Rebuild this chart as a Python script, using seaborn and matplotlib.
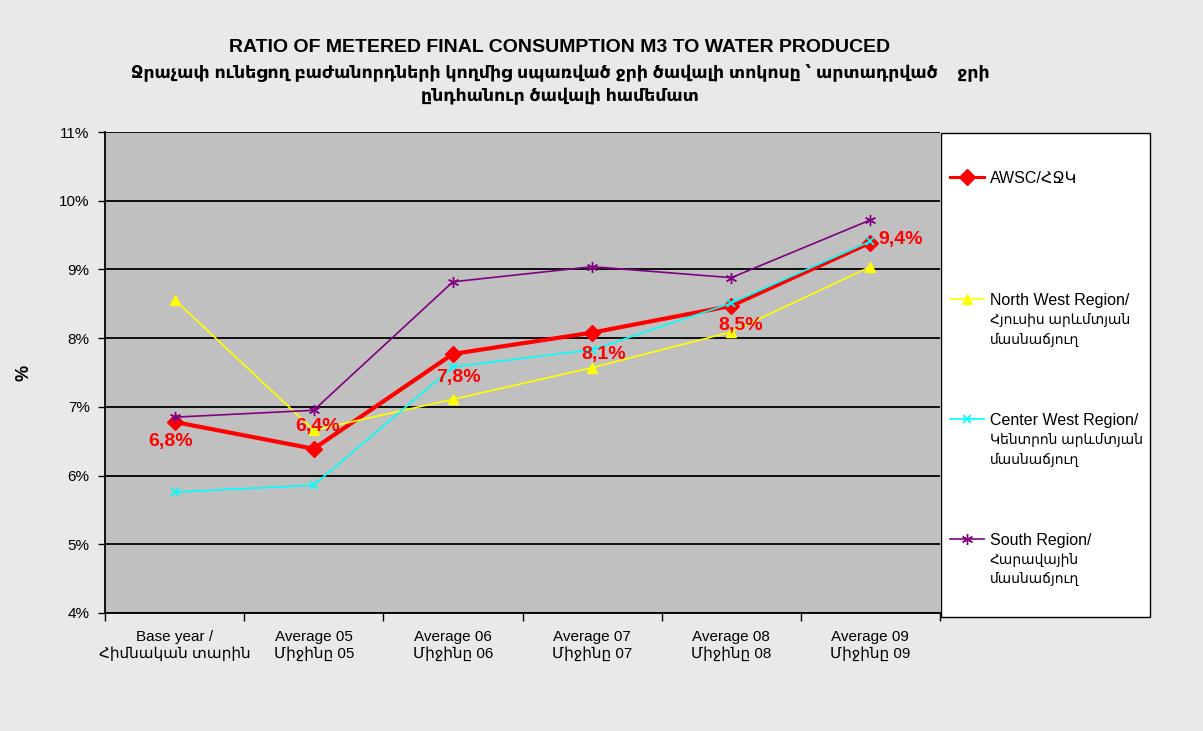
import matplotlib
matplotlib.use('Agg')
import matplotlib.pyplot as plt
from matplotlib.lines import Line2D
from matplotlib.patches import Rectangle
from matplotlib.ticker import FixedLocator, FuncFormatter
import seaborn as sns
import pandas as pd

# data (percent)
categories = ['Base year /\nՀիմնական տարին', 'Average 05\nՄիջինը 05', 'Average 06\nՄիջինը 06',
              'Average 07\nՄիջինը 07', 'Average 08\nՄիջինը 08', 'Average 09\nՄիջինը 09']
awsc = [6.78, 6.39, 7.77, 8.08, 8.47, 9.39]
north_west = [8.56, 6.66, 7.11, 7.57, 8.09, 9.04]
center_west = [5.76, 5.86, 7.58, 7.83, 8.51, 9.41]
south = [6.85, 6.95, 8.82, 9.04, 8.88, 9.72]
awsc_labels = ['6,8%', '6,4%', '7,8%', '8,1%', '8,5%', '9,4%']

legend_names = [['AWSC/ՀՋԿ'],
                ['North West Region/', 'Հյուսիս արևմտյան', 'մասնաճյուղ'],
                ['Center West Region/', 'Կենտրոն արևմտյան', 'մասնաճյուղ'],
                ['South Region/', 'Հարավային', 'մասնաճյուղ']]

title_1 = 'RATIO OF METERED FINAL CONSUMPTION M3 TO WATER PRODUCED'
title_2 = 'Ջրաչափ ունեցող բաժանորդների կողմից սպառված ջրի ծավալի տոկոսը ՝ արտադրված    ջրի'
title_3 = 'ընդհանուր ծավալի համեմատ'

plt.rcParams['font.family'] = ['Liberation Sans', 'DejaVu Sans']

styles = [
    dict(color='#ff0000', marker='D', markersize=8, linewidth=3, markeredgewidth=1),
    dict(color='#ffff00', marker='^', markersize=7, linewidth=1.2, markeredgewidth=1),
    dict(color='#00ffff', marker='x', markersize=6, linewidth=1.2, markeredgewidth=1.3),
    dict(color='#800080', marker=(6, 2, 0), markersize=8, linewidth=1.2, markeredgewidth=1),
]

fig = plt.figure(figsize=(12.03, 7.31), dpi=100, facecolor='#e9e9e9')
ax = fig.add_axes([105 / 1203, 1 - 613 / 731, 835 / 1203, 481 / 731])

for vals, st in zip([awsc, north_west, center_west, south], styles):
    df = pd.DataFrame({'cat': categories, 'val': vals})
    sns.lineplot(data=df, x='cat', y='val', ax=ax, sort=False,
                 markeredgecolor=st['color'], **st)

# data labels on the AWSC line
offsets = [(-3, -14, 'center'), (3, 16, 'center'), (4, -17, 'center'),
           (8, -16, 'center'), (7, -14, 'center'), (6, 2, 'left')]
for i, (v, lbl) in enumerate(zip(awsc, awsc_labels)):
    dx, dy, ha = offsets[i]
    ax.annotate(lbl, (i, v), xytext=(dx, dy), textcoords='offset points',
                ha=ha, va='center', color='red', fontweight='bold', fontsize=14, zorder=10)

ax.set_xlim(-0.5, 5.5)
ax.set_ylim(4, 11)
ax.set_facecolor('#c0c0c0')
ax.yaxis.set_major_locator(FixedLocator(range(4, 12)))
ax.yaxis.set_major_formatter(FuncFormatter(lambda v, p: f'{int(round(v))}%'))
ax.grid(axis='y', color='black', linewidth=1.3)
ax.grid(axis='x', visible=False)
ax.set_axisbelow(True)
for s in ['top', 'right']:
    ax.spines[s].set_visible(False)
for s in ['left', 'bottom']:
    ax.spines[s].set_color('black')
    ax.spines[s].set_linewidth(1.3)

ax.xaxis.set_minor_locator(FixedLocator([x - 0.5 for x in range(7)]))
ax.tick_params(axis='x', which='major', length=0, pad=12, labelsize=11)
ax.tick_params(axis='x', which='minor', length=6, width=1, direction='out', color='black')
ax.tick_params(axis='y', length=5, width=1, direction='out', labelsize=11, pad=6)
ax.set_xlabel('')
ax.set_ylabel('%', fontweight='bold', fontsize=13)
ax.yaxis.set_label_coords(-0.087, 0.5)

# titles
fig.text(560 / 1203, 1 - 47 / 731, title_1, ha='center', va='center', fontsize=14, fontweight='bold')
fig.text(560 / 1203, 1 - 72 / 731, title_2, ha='center', va='center', fontsize=12.5, fontweight='bold')
fig.text(560 / 1203, 1 - 96 / 731, title_3, ha='center', va='center', fontsize=12.5, fontweight='bold')

# legend box
fig.add_artist(Rectangle((941 / 1203, 1 - 617 / 731), 209 / 1203, 484 / 731,
                         transform=fig.transFigure, facecolor='white', edgecolor='black',
                         linewidth=1, zorder=0))
blank = Line2D([], [], linestyle='none')
handles, labels, armenian = [], [], []
for k, (lines, st) in enumerate(zip(legend_names, styles)):
    leg_style = dict(st)
    leg_style['linewidth'] = min(st['linewidth'], 2.2)
    handles.append(Line2D([], [], markeredgecolor=st['color'], **leg_style))
    labels.append(lines[0])
    armenian.append(False)
    for extra in lines[1:]:
        handles.append(blank)
        labels.append(extra)
        armenian.append(True)
    if k < len(legend_names) - 1:
        for _ in range(6 - len(lines)):
            handles.append(blank)
            labels.append(' ')
            armenian.append(False)
leg = fig.legend(handles, labels, loc='upper left', bbox_to_anchor=(950 / 1203, 1 - 171 / 731),
                 frameon=False, fontsize=11.5, labelspacing=0.33, handlelength=2.1,
                 handletextpad=0.4, borderpad=0, borderaxespad=0)
for t, arm in zip(leg.get_texts(), armenian):
    if arm:
        t.set_fontsize(10)

fig.savefig('out.png', dpi=100, facecolor=fig.get_facecolor())
